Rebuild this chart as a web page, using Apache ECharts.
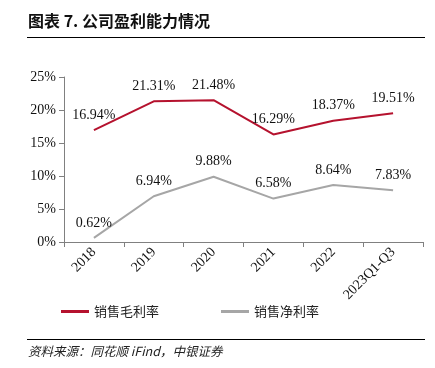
<!DOCTYPE html>
<html>
<head>
<meta charset="utf-8">
<script src="https://cdn.jsdelivr.net/npm/echarts@6/dist/echarts.min.js"></script>
<style>
  html, body { margin: 0; padding: 0; background: #fff; }
  #main { width: 435px; height: 368px; }
</style>
</head>
<body>
<div id="main"></div>
<script>
var categories = ['2018', '2019', '2020', '2021', '2022', '2023Q1-Q3'];
var grossMargin = [16.94, 21.31, 21.48, 16.29, 18.37, 19.51];
var netMargin = [0.62, 6.94, 9.88, 6.58, 8.64, 7.83];

var myChart = echarts.init(document.getElementById('main'));
var serif = '"Liberation Serif", "Times New Roman", serif';

function pct(p) { return p.value.toFixed(2) + '%'; }

var option = {
  animation: false,
  backgroundColor: '#fff',
  title: [
    {text: '图表 7. 公司盈利能力情况', left: 28, top: 13, padding: 0, textStyle: {
      fontFamily: '"Noto Sans CJK SC"', fontWeight: 'bold', fontSize: 16, color: '#111'
    }},
    {text: '资料来源：同花顺 iFind，中银证券', left: 28, top: 345, padding: 0, textStyle: {
      fontFamily: '"Noto Sans CJK SC"', fontStyle: 'italic', fontWeight: 'normal', fontSize: 12.5, color: '#222'
    }}
  ],
  graphic: [
    {type: 'line', shape: {x1: 27, y1: 37.5, x2: 425, y2: 37.5}, style: {stroke: '#000', lineWidth: 1}},
    {type: 'line', shape: {x1: 27, y1: 339.5, x2: 425, y2: 339.5}, style: {stroke: '#000', lineWidth: 1}}
  ],
  legend: {
    top: 300,
    left: 56,
    itemGap: 62,
    itemWidth: 28,
    itemHeight: 3,
    icon: 'rect',
    textStyle: {fontFamily: '"Noto Sans CJK SC"', fontSize: 13, color: '#222'},
    data: ['销售毛利率', '销售净利率']
  },
  grid: {left: 64, right: 12, top: 77, bottom: 126},
  xAxis: {
    type: 'category',
    data: categories,
    boundaryGap: true,
    axisLine: {lineStyle: {color: '#808080'}},
    axisTick: {show: true, alignWithLabel: false, lineStyle: {color: '#808080'}},
    axisLabel: {rotate: 45, interval: 0, color: '#111', fontFamily: serif, fontSize: 14, margin: 8}
  },
  yAxis: {
    type: 'value',
    min: 0, max: 25, interval: 5,
    splitLine: {show: false},
    axisLine: {show: true, lineStyle: {color: '#808080'}},
    axisTick: {show: true, lineStyle: {color: '#808080'}},
    axisLabel: {formatter: '{value}%', color: '#111', fontFamily: serif, fontSize: 14}
  },
  series: [
    {
      name: '销售毛利率',
      type: 'line',
      data: grossMargin,
      symbol: 'circle',
      symbolSize: 0,
      lineStyle: {color: '#b5122e', width: 2},
      itemStyle: {color: '#b5122e'},
      label: {show: true, position: 'top', distance: 8, formatter: pct,
        color: '#111', fontFamily: serif, fontSize: 14}
    },
    {
      name: '销售净利率',
      type: 'line',
      data: netMargin,
      symbol: 'circle',
      symbolSize: 0,
      lineStyle: {color: '#a6a6a6', width: 2},
      itemStyle: {color: '#a6a6a6'},
      label: {show: true, position: 'top', distance: 8, formatter: pct,
        color: '#111', fontFamily: serif, fontSize: 14}
    }
  ]
};
myChart.setOption(option);
</script>
</body>
</html>
